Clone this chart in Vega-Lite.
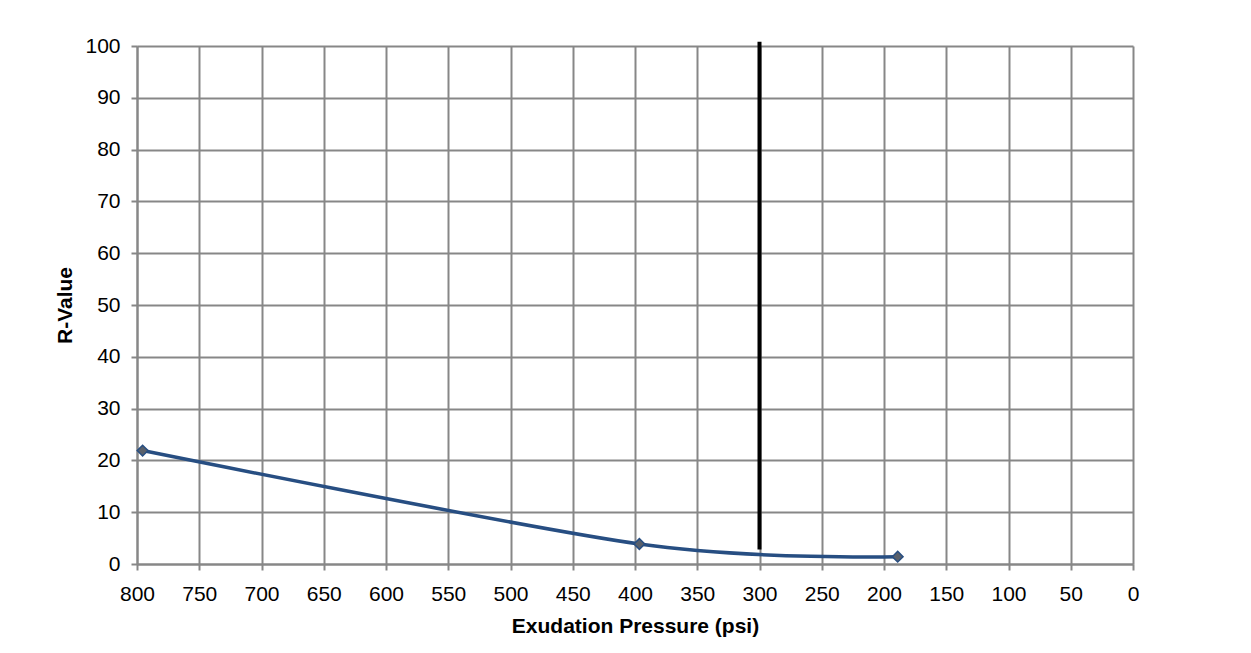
{
  "$schema": "https://vega.github.io/schema/vega-lite/v6.json",
  "width": 996,
  "height": 518,
  "autosize": {"type": "none"},
  "padding": {"left": 137, "top": 46, "right": 118, "bottom": 89},
  "background": "white",
  "config": {
    "view": {"stroke": null},
    "font": "Liberation Sans",
    "axis": {
      "domainColor": "#878787",
      "domainWidth": 2,
      "gridColor": "#878787",
      "gridWidth": 2,
      "gridOpacity": 1,
      "tickColor": "#878787",
      "tickWidth": 2,
      "tickSize": 6,
      "labelColor": "#000000",
      "labelFont": "Liberation Sans",
      "labelFontSize": 21,
      "titleColor": "#000000",
      "titleFont": "Liberation Sans",
      "titleFontSize": 21,
      "titleFontWeight": "bold"
    }
  },
  "datasets": {
    "series": [
      {"pressure": 795.5, "rvalue": 21.9},
      {"pressure": 396.5, "rvalue": 3.86},
      {"pressure": 189, "rvalue": 1.41}
    ],
    "marker": [
      {"p": 300, "top": 100.8, "bottom": 2.8}
    ]
  },
  "layer": [
    {
      "data": {"name": "series"},
      "mark": {"type": "line", "interpolate": "cardinal", "tension": 0.1, "color": "#274E82", "strokeWidth": 3.5},
      "encoding": {
        "x": {
          "field": "pressure",
          "type": "quantitative",
          "scale": {"domain": [0, 800], "reverse": true, "nice": false},
          "axis": {
            "values": [0, 50, 100, 150, 200, 250, 300, 350, 400, 450, 500, 550, 600, 650, 700, 750, 800],
            "title": "Exudation Pressure (psi)",
            "labelPadding": 13,
            "titlePadding": 11,
            "labelFlush": false,
            "labelOverlap": false
          }
        },
        "y": {
          "field": "rvalue",
          "type": "quantitative",
          "scale": {"domain": [0, 100], "nice": false},
          "axis": {
            "values": [0, 10, 20, 30, 40, 50, 60, 70, 80, 90, 100],
            "title": "R-Value",
            "labelPadding": 11,
            "titlePadding": 9,
            "labelFlush": false,
            "labelOverlap": false
          }
        }
      }
    },
    {
      "data": {"name": "series"},
      "mark": {"type": "point", "shape": "diamond", "filled": true, "fill": "#59606B", "stroke": "#274E82", "strokeWidth": 1.5, "size": 115, "opacity": 1},
      "encoding": {
        "x": {"field": "pressure", "type": "quantitative"},
        "y": {"field": "rvalue", "type": "quantitative"}
      }
    },
    {
      "data": {"name": "marker"},
      "mark": {"type": "rule", "color": "#000000", "strokeWidth": 4, "clip": false},
      "encoding": {
        "x": {"field": "p", "type": "quantitative"},
        "y": {"field": "top", "type": "quantitative"},
        "y2": {"field": "bottom"}
      }
    }
  ]
}
